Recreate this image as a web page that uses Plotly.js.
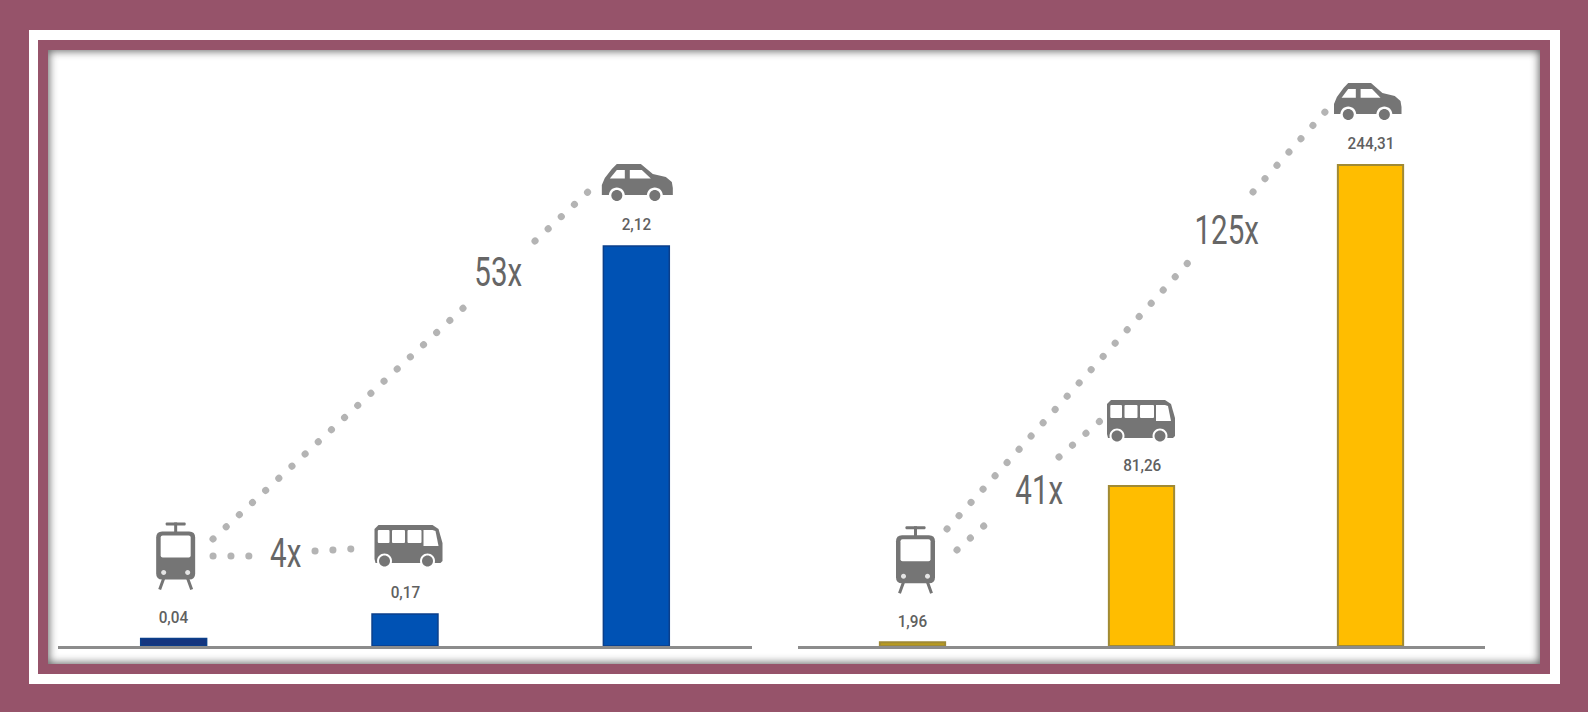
<!DOCTYPE html>
<html>
<head>
<meta charset="utf-8">
<script src="https://cdn.plot.ly/plotly-3.0.1.min.js"></script>
<style>
  html, body { margin: 0; padding: 0; width: 1588px; height: 712px; overflow: hidden; background: #96536a; }
  .frame { position: absolute; box-sizing: border-box; }
  #white { left: 29px; top: 30px; width: 1531px; height: 654px; background: #fff; }
  #band { left: 38px; top: 40px; width: 1512px; height: 634px; background: #96536a; }
  #panel { left: 48px; top: 50px; width: 1492px; height: 614px; background: #fff; }
  #shade { left: 48px; top: 50px; width: 1492px; height: 614px; z-index: 5; pointer-events: none;
           box-shadow: inset 0 0 9px 1px rgba(0,0,0,.62); }
  #chart { position: absolute; left: 0; top: 0; width: 1588px; height: 712px; z-index: 3; }
  .shapelayer path { stroke-linecap: round; }
  /* Condensed look for the labels: value labels first, then the ratio labels */
  .annotation .annotation-text { transform-box: fill-box; transform-origin: center; transform: scaleX(.9); }
  .annotation[data-index="6"] .annotation-text,
  .annotation[data-index="7"] .annotation-text,
  .annotation[data-index="8"] .annotation-text,
  .annotation[data-index="9"] .annotation-text { transform: scaleX(.72); }
</style>
</head>
<body>
<div class="frame" id="white"></div>
<div class="frame" id="band"></div>
<div class="frame" id="panel"></div>
<div id="chart"></div>
<div class="frame" id="shade"></div>
<script>
// Transport modes and the two compared indicators
const modes = ["Tram", "Bus", "Car"];
const leftValues = [0.04, 0.17, 2.12];
const rightValues = [1.96, 81.26, 244.31];
const ratioLabels = ["53x", "4x", "125x", "41x"];

const W = 1588, H = 712;
const px = x => x / W;
const py = y => 1 - y / H;

const GREY = "#757575";
const DOT = "#b4b4b4";
const FONT = "Roboto, sans-serif";

const fmt = v => v.toFixed(2).replace(".", ",");

const bars = [
  { x: modes, y: leftValues, type: "bar", xaxis: "x", yaxis: "y", hoverinfo: "skip",
    marker: { color: ["#14357f", "#0052b4", "#0052b4"], line: { color: "#0b3f8a", width: 1.5 } } },
  { x: modes, y: rightValues, type: "bar", xaxis: "x2", yaxis: "y2", hoverinfo: "skip",
    marker: { color: ["#b89a20", "#ffbd00", "#ffbd00"], line: { color: "#a08a35", width: 2 } } }
];

// Small helpers that build icon outlines, in pixels relative to a bar's top
const poly = pts => "M" + pts.map(p => p[0].toFixed(1) + "," + p[1].toFixed(1)).join("L") + "Z";
const circle = (cx, cy, r) => {
  const k = r * 0.5523;
  return `M${cx - r},${cy}C${cx - r},${cy + k} ${cx - k},${cy + r} ${cx},${cy + r}` +
         `C${cx + k},${cy + r} ${cx + r},${cy + k} ${cx + r},${cy}` +
         `C${cx + r},${cy - k} ${cx + k},${cy - r} ${cx},${cy - r}` +
         `C${cx - k},${cy - r} ${cx - r},${cy - k} ${cx - r},${cy}Z`;
};
const rrect = (x0, y0, x1, y1, r) =>
  `M${x0 + r},${y0}L${x1 - r},${y0}Q${x1},${y0} ${x1},${y0 + r}L${x1},${y1 - r}Q${x1},${y1} ${x1 - r},${y1}` +
  `L${x0 + r},${y1}Q${x0},${y1} ${x0},${y1 - r}L${x0},${y0 + r}Q${x0},${y0} ${x0 + r},${y0}Z`;

function pieces(axis, mode, value, parts) {
  return parts.map(p => ({
    type: "path", layer: "above", path: p.d,
    xref: "x" + axis, yref: "y" + axis,
    xsizemode: "pixel", ysizemode: "pixel",
    xanchor: mode, yanchor: value,
    fillcolor: p.stroke ? "rgba(0,0,0,0)" : p.fill,
    line: p.stroke ? { color: p.stroke, width: p.w } : { width: 0 }
  }));
}

function tram(axis, value, dx) {
  const x = v => v + dx;
  return pieces(axis, modes[0], value, [
    { d: poly([[x(-12), 60], [x(-16), 49]]), stroke: GREY, w: 3 },
    { d: poly([[x(12), 60], [x(16), 49]]), stroke: GREY, w: 3 },
    { d: rrect(x(-1.5), 105, x(1.5), 116, 0), fill: GREY },
    { d: rrect(x(-10), 113, x(10), 116, 1), fill: GREY },
    { d: rrect(x(-19.5), 59, x(19.5), 107, 6), fill: GREY },
    { d: rrect(x(-15), 81, x(15), 103, 2), fill: "#fff" },
    { d: circle(x(-12), 66, 2.5), fill: "#e4e4e4" },
    { d: circle(x(12), 66, 2.5), fill: "#e4e4e4" }
  ]);
}

function bus(axis, value, dx, lift) {
  const x = v => v + dx - 34, y = v => v + lift;
  const wheels = [10, 53];
  const parts = [
    { d: poly([[x(1), y(4)], [x(0), y(8)], [x(0), y(38)], [x(4), y(42)], [x(58), y(42)], [x(64), y(38)],
               [x(68), y(24)], [x(68), y(6)], [x(66), y(4)]]), fill: GREY },
    { d: rrect(x(3.3), y(24), x(15), y(37), 1), fill: "#fff" },
    { d: rrect(x(17.5), y(24), x(30.5), y(37), 1), fill: "#fff" },
    { d: rrect(x(33), y(24), x(47), y(37), 1), fill: "#fff" },
    { d: poly([[x(49), y(21)], [x(64), y(21)], [x(61), y(36)], [x(58), y(37)], [x(49), y(37)]]), fill: "#fff" }
  ];
  wheels.forEach(c => {
    parts.push({ d: circle(x(c), y(6), 7.5), fill: "#fff" });
    parts.push({ d: circle(x(c), y(6), 5.5), fill: GREY });
  });
  return pieces(axis, modes[1], value, parts);
}

function car(axis, value, dx, sx) {
  const x = v => v * sx + dx - 35.5, y = v => v + 43;
  const pt = a => a.map(p => [x(p[0]), y(p[1])]);
  const wheels = [15, 53];
  const parts = [
    { d: poly(pt([[0, 9], [0, 18], [3, 25], [10, 34], [15, 39], [39, 39], [51, 29], [64, 26], [70, 21], [71, 15], [71, 8], [0, 8]])), fill: GREY },
    { d: poly(pt([[8, 24.3], [23, 24.3], [23, 33], [15, 33]])), fill: "#fff" },
    { d: poly(pt([[28, 24.3], [49, 24.3], [40, 33], [28, 33]])), fill: "#fff" }
  ];
  wheels.forEach(c => {
    parts.push({ d: circle(x(c), y(7.5), 8), fill: "#fff" });
    parts.push({ d: circle(x(c), y(7.5), 5.5), fill: GREY });
  });
  return pieces(axis, modes[2], value, parts);
}

// Dotted connectors between the icons, broken where a ratio label sits
const dotted = (x0, y0, x1, y1) => ({
  type: "line", layer: "below", xref: "paper", yref: "paper",
  x0: px(x0), y0: py(y0), x1: px(x1), y1: py(y1),
  line: { color: DOT, width: 7, dash: "0.1px,17.8px" }
});
const connectors = [
  dotted(213, 539, 472, 300), dotted(535, 241, 590, 190),
  dotted(213, 556, 262, 556), dotted(315, 551, 366, 548),
  dotted(947, 529, 1194, 256), dotted(1253, 192, 1325, 112),
  dotted(957, 550, 996, 515), dotted(1059, 457, 1100, 421)
];

const axisBase = {
  range: [-0.5, 2.5], type: "category", showgrid: false, zeroline: false,
  showticklabels: false, ticks: "", showline: true, linecolor: "#8c8c8c", linewidth: 2.5, fixedrange: true
};
const valueAxis = { showgrid: false, zeroline: false, showticklabels: false, ticks: "", showline: false,
                    domain: [(H - 646) / H, (H - 50) / H], fixedrange: true };

const valueNotes = (vals, axis) => vals.map((v, i) => ({
  x: modes[i], y: v, xref: "x" + axis, yref: "y" + axis, text: fmt(v), showarrow: false,
  yanchor: "middle", xanchor: "center", yshift: 21.5,
  font: { family: FONT, size: 17, color: "#606060", weight: 500 }
}));

const ratioPos = [[497.5, 272], [285, 553], [1226, 230], [1039, 490]];
const ratioNotes = ratioLabels.map((t, i) => ({
  x: px(ratioPos[i][0]), y: py(ratioPos[i][1]), xref: "paper", yref: "paper", text: t, showarrow: false,
  xanchor: "center", yanchor: "middle",
  font: { family: FONT, size: 41, color: "#666666" }
}));

const layout = {
  width: W, height: H,
  margin: { l: 0, r: 0, t: 0, b: 0 },
  paper_bgcolor: "rgba(0,0,0,0)", plot_bgcolor: "rgba(0,0,0,0)",
  showlegend: false, bargap: 0.715,
  xaxis: Object.assign({}, axisBase, { domain: [58 / W, 752 / W], anchor: "y" }),
  yaxis: Object.assign({}, valueAxis, { range: [0, 3.158], anchor: "x" }),
  xaxis2: Object.assign({}, axisBase, { domain: [798 / W, 1485 / W], anchor: "y2" }),
  yaxis2: Object.assign({}, valueAxis, { range: [0, 302.7], anchor: "x2" }),
  shapes: [].concat(
    connectors,
    tram("", leftValues[0], 2), bus("", leftValues[1], 3.5, 47), car("", leftValues[2], 1, 1),
    tram("2", rightValues[0], 3), bus("2", rightValues[1], -0.5, 44), car("2", rightValues[2], -1, 0.95)
  ),
  annotations: [].concat(valueNotes(leftValues, ""), valueNotes(rightValues, "2"), ratioNotes)
};

Plotly.newPlot("chart", bars, layout, { displayModeBar: false, staticPlot: true });
</script>
</body>
</html>
